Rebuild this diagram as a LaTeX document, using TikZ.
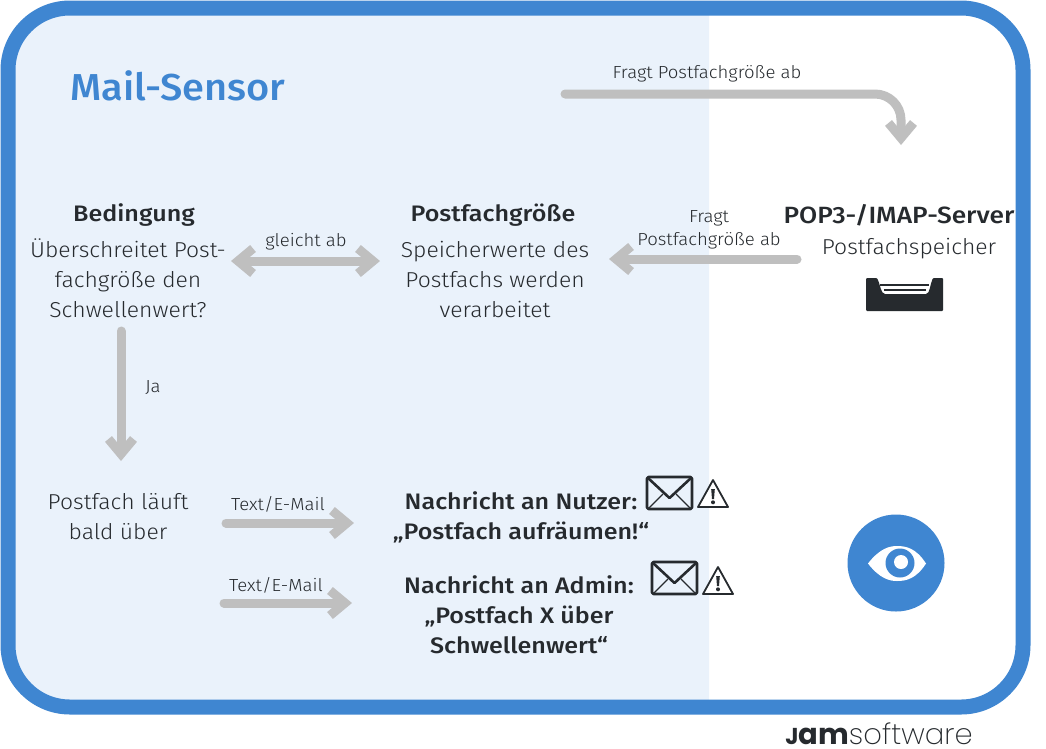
\documentclass[tikz,border=0pt]{standalone}
\usepackage{fontspec}
\setmainfont{Fira Sans}[UprightFont=* Light,BoldFont=* Medium,FakeStretch=1.06]
\newfontfamily\headfont{Fira Sans Medium}[FakeStretch=1.12]
\newfontfamily\titlefont{Fira Sans Medium}[FakeStretch=1.06]
\newfontfamily\logobold{Poppins Bold}
\newfontfamily\logolight{Poppins ExtraLight}
\usetikzlibrary{arrows.meta}
\definecolor{jamblue}{HTML}{3F86D1}
\definecolor{lightblue}{HTML}{EAF2FB}
\definecolor{arrowgray}{HTML}{BFBFBF}
\definecolor{inkdark}{HTML}{262A2E}
\tikzset{
  x=1pt,y=-1pt,
  txt/.style={font=\fontsize{21.6}{30}\selectfont,text=inkdark,align=center,inner sep=0pt},
  headtxt/.style={font=\headfont\fontsize{22.4}{30}\selectfont,text=inkdark,align=center,inner sep=0pt},
  small/.style={font=\fontsize{17.5}{23}\selectfont,text=inkdark,align=center,inner sep=0pt},
  conn/.style={draw=arrowgray,line width=9pt,line cap=round,-{Straight Barb[length=15pt,width=25pt,line width=9pt]}},
  conn2/.style={draw=arrowgray,line width=9pt,{Straight Barb[length=15pt,width=25pt,line width=9pt]}-{Straight Barb[length=15pt,width=25pt,line width=9pt]}},
  iconline/.style={draw=inkdark,line width=2.6pt,line join=round},
  iconthin/.style={draw=inkdark,line width=1.3pt},
}
\newcommand{\mailicon}[2]{%
  \begin{scope}[shift={(#1,#2)}]
    \draw[iconline,rounded corners=1.5pt] (0,0) rectangle (45,32);
    \draw[iconline] (1,1) -- (22.5,21) -- (44,1);
    \draw[iconthin] (2,31) -- (16,17) (43,31) -- (29,17);
  \end{scope}}
\newcommand{\warnicon}[2]{%
  \begin{scope}[shift={(#1,#2)}]
    \draw[draw=inkdark,line width=1.8pt,line join=round,fill=white] (15,0) -- (30,27) -- (0,27) -- cycle;
    \fill[inkdark] (13.2,9) -- (16.8,9) -- (16,19) -- (14,19) -- cycle;
    \fill[inkdark] (15,22.3) circle (2);
  \end{scope}}
\begin{document}
\begin{tikzpicture}
\useasboundingbox (0,0) rectangle (1046,748);
\fill[white] (0,0) rectangle (1046,748);
% panel
\begin{scope}
  \clip (8,8) rectangle (709,707);
  \fill[lightblue,rounded corners=62pt] (8,8) rectangle (1023,707);
\end{scope}
\draw[jamblue,line width=15pt,rounded corners=62pt] (8,8) rectangle (1023,707);
% title
\node[font=\titlefont\fontsize{37.5}{40}\selectfont,text=jamblue,inner sep=0pt] (title) at (178,86) {Mail-Sensor};
% text nodes
\node[headtxt] (bedhead) at (134,215) {Bedingung};
\node[txt] (bed) at (128,278) {Überschreitet Post-\\fachgröße den\\Schwellenwert?};
\node[headtxt] (pghead) at (493,215) {Postfachgröße};
\node[txt] (pg) at (495,279) {Speicherwerte des\\Postfachs werden\\verarbeitet};
\node[headtxt,font=\headfont\fontsize{23.5}{30}\selectfont] (pophead) at (899,215) {POP3-/IMAP-Server};
\node[txt] (pop) at (909,249) {Postfachspeicher};
\node[txt] (lauf) at (118,517) {Postfach läuft\\bald über};
\node[headtxt] (nutzer) at (521,517) {Nachricht an Nutzer:\\„Postfach aufräumen!“};
\node[headtxt] (admin) at (519,615) {Nachricht an Admin:\\„Postfach X über\\Schwellenwert“};
% connector labels
\node[small] (l1) at (707,74) {Fragt Postfachgröße ab};
\node[small] (l2) at (709,230) {Fragt\\Postfachgröße ab};
\node[small] (l3) at (306,242) {gleicht ab};
\node[small] (l4) at (153,388) {Ja};
\node[small] (l5) at (278,504) {Text/E-Mail};
\node[small] (l6) at (276,585) {Text/E-Mail};
% connector ends
\coordinate (a1s) at (565,94);
\coordinate (a1e) at (901,145);
\coordinate (a2s) at (797,259);
\coordinate (a2e) at (609,259);
\coordinate (a3s) at (231,261);
\coordinate (a3e) at (380,261);
\coordinate (a4s) at (121,331);
\coordinate (a4e) at (121,461);
\coordinate (a5s) at (226,523);
\coordinate (a5e) at (354,523);
\coordinate (a6s) at (224,603);
\coordinate (a6e) at (352,603);
\draw[conn,rounded corners=26pt] (a1s) -- (a1s -| a1e) -- (a1e);
\draw[conn] (a2s) -- (a2e);
\draw[conn2] (a3s) -- (a3e);
\draw[conn] (a4s) -- (a4e);
\draw[conn] (a5s) -- (a5e);
\draw[conn] (a6s) -- (a6e);
% icons
\mailicon{647}{477}
\warnicon{698}{480}
\mailicon{652}{562}
\warnicon{703}{567}
% tray
\fill[inkdark,rounded corners=1pt] (866,278) -- (877,278) .. controls (880,284) and (881,294) .. (886,294) -- (925,294) .. controls (930,294) and (930,284) .. (933,278) -- (943,278) -- (943,311) -- (866,311) -- cycle;
\draw[inkdark,line width=1.6pt] (880,285) -- (929,285);
\draw[inkdark,line width=2.6pt] (884,290) -- (926,290);
% eye badge
\fill[jamblue] (896,563) circle (48.5);
\fill[white] (868,563.5) .. controls (880,548) and (890,546) .. (897,546) .. controls (906,546) and (916,548) .. (926,563.5) .. controls (916,579) and (906,581) .. (897,581) .. controls (890,581) and (880,579) .. (868,563.5) -- cycle;
\fill[jamblue] (900,563) circle (14.5);
\fill[white] (901,562) circle (7);
% logo
\node[anchor=base,inner sep=0pt,text=inkdark,font=\fontsize{29}{30}\selectfont] (logo) at (879,744) {{\logobold{\fontsize{23}{30}\selectfont J}am}{\logolight software}};
\end{tikzpicture}
\end{document}
